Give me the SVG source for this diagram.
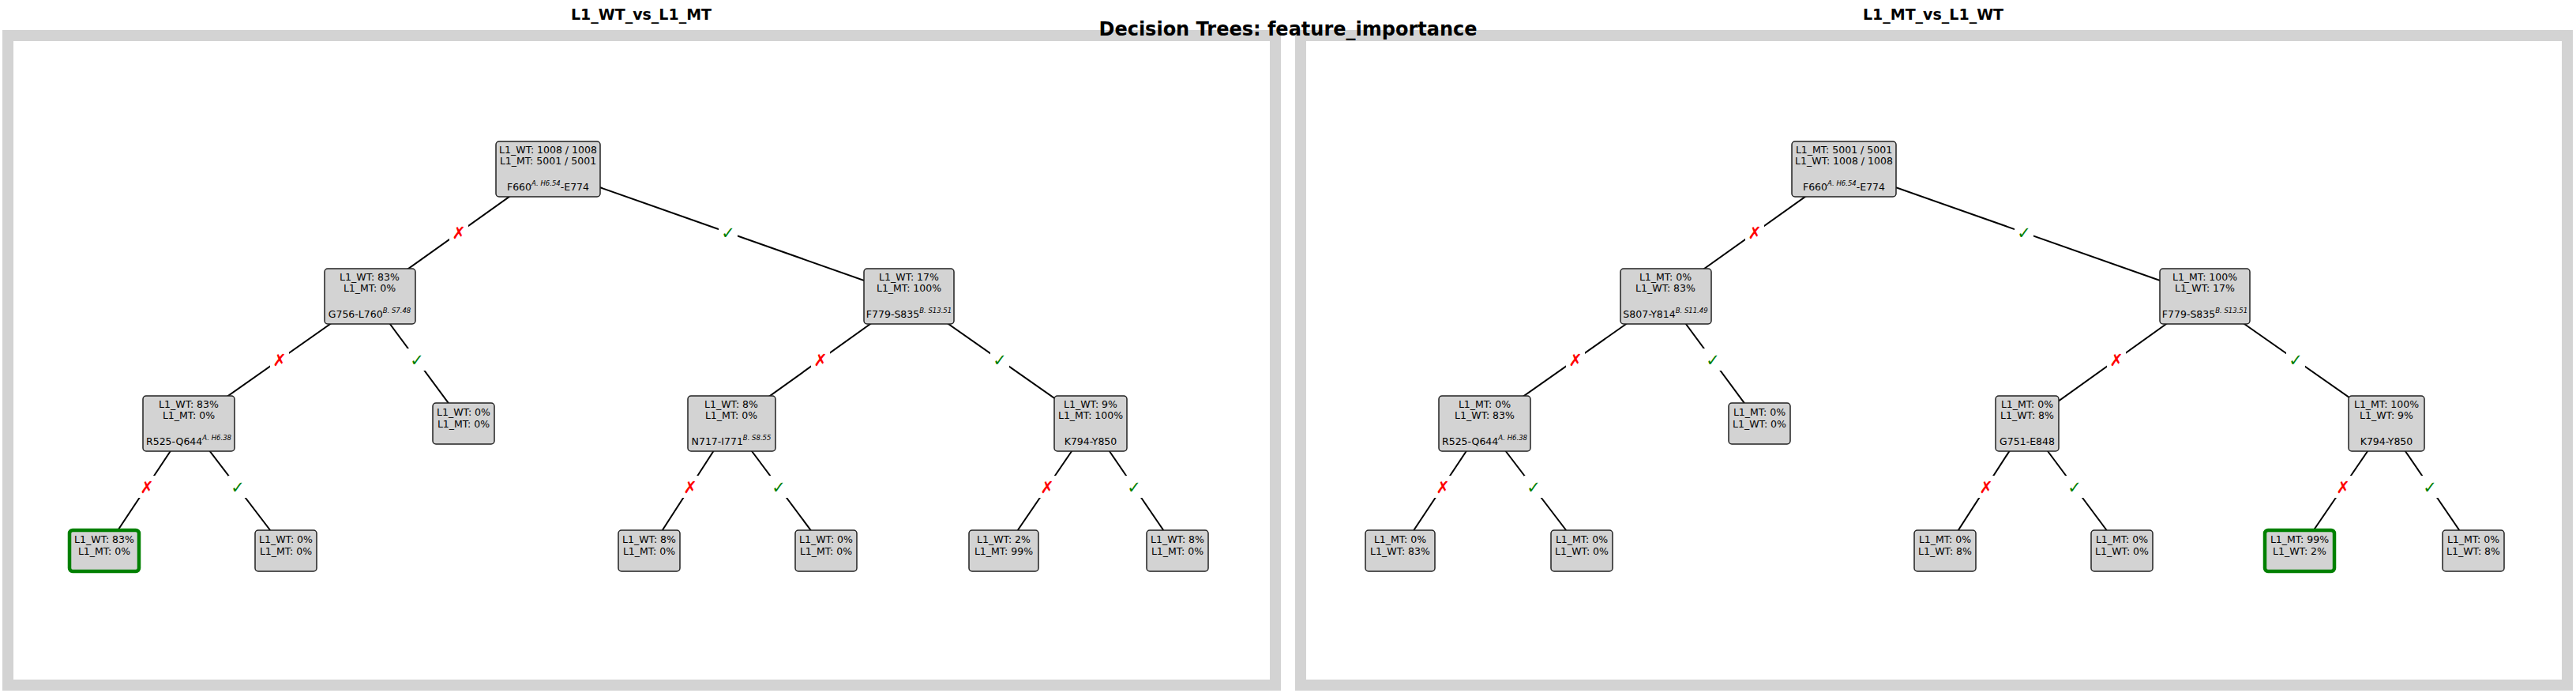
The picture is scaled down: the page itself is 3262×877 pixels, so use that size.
<svg xmlns="http://www.w3.org/2000/svg" width="3262" height="877" viewBox="0 0 3262 877">
<style>
.t{font-family:"DejaVu Sans",sans-serif;font-size:12.5px;fill:#000;text-anchor:middle}
.sup{font-size:8.5px;font-style:italic}
.h{font-family:"DejaVu Sans",sans-serif;font-weight:bold;text-anchor:middle;fill:#000}
.b{fill:#d3d3d3;stroke:#222;stroke-width:1.5}
.g{fill:#d3d3d3;stroke:#008000;stroke-width:4.5}
.e{stroke:#000;stroke-width:2;fill:none}
.x{font-family:"DejaVu Sans",sans-serif;font-size:21px;fill:#ff0000;text-anchor:middle}
.c{font-family:"DejaVu Sans",sans-serif;font-size:21px;fill:#008000;text-anchor:middle}
.frame{fill:none;stroke:#d3d3d3;stroke-width:14}
</style>
<rect width="3262" height="877" fill="#fff"/>
<rect class="frame" x="10" y="45" width="1605" height="822"/>
<rect class="frame" x="1647" y="45" width="1604" height="822"/>
<text class="h" x="812" y="25" font-size="19">L1_WT_vs_L1_MT</text>
<text class="h" x="2448" y="25" font-size="19">L1_MT_vs_L1_WT</text>
<text class="h" x="1631" y="45" font-size="24">Decision Trees: feature_importance</text>

<g id="connectors">
<g id="edges-left">
<line class="e" x1="694" y1="214" x2="468" y2="375"/>
<line class="e" x1="694" y1="214" x2="1151" y2="375"/>
<line class="e" x1="468" y1="375" x2="239" y2="536"/>
<line class="e" x1="468" y1="375" x2="587" y2="536"/>
<line class="e" x1="1151" y1="375" x2="926" y2="536"/>
<line class="e" x1="1151" y1="375" x2="1381" y2="536"/>
<line class="e" x1="239" y1="536" x2="132" y2="697"/>
<line class="e" x1="239" y1="536" x2="362" y2="697"/>
<line class="e" x1="926" y1="536" x2="822" y2="697"/>
<line class="e" x1="926" y1="536" x2="1046" y2="697"/>
<line class="e" x1="1381" y1="536" x2="1271" y2="697"/>
<line class="e" x1="1381" y1="536" x2="1491" y2="697"/>
</g>
<g id="edges-right" transform="translate(1641 0)">
<line class="e" x1="694" y1="214" x2="468" y2="375"/>
<line class="e" x1="694" y1="214" x2="1151" y2="375"/>
<line class="e" x1="468" y1="375" x2="239" y2="536"/>
<line class="e" x1="468" y1="375" x2="587" y2="536"/>
<line class="e" x1="1151" y1="375" x2="926" y2="536"/>
<line class="e" x1="1151" y1="375" x2="1381" y2="536"/>
<line class="e" x1="239" y1="536" x2="132" y2="697"/>
<line class="e" x1="239" y1="536" x2="362" y2="697"/>
<line class="e" x1="926" y1="536" x2="822" y2="697"/>
<line class="e" x1="926" y1="536" x2="1046" y2="697"/>
<line class="e" x1="1381" y1="536" x2="1271" y2="697"/>
<line class="e" x1="1381" y1="536" x2="1491" y2="697"/>
</g>
<g id="edge-labels-left" fill="#fff">
<rect x="569" y="280" width="24" height="28"/><text class="x" x="581" y="302">✗</text>
<rect x="910" y="280" width="24" height="28"/><text class="c" x="922" y="302">✓</text>
<rect x="342" y="441" width="24" height="28"/><text class="x" x="354" y="463">✗</text>
<rect x="516" y="441" width="24" height="28"/><text class="c" x="528" y="463">✓</text>
<rect x="1027" y="441" width="24" height="28"/><text class="x" x="1039" y="463">✗</text>
<rect x="1254" y="441" width="24" height="28"/><text class="c" x="1266" y="463">✓</text>
<rect x="174" y="602" width="24" height="28"/><text class="x" x="186" y="624">✗</text>
<rect x="289" y="602" width="24" height="28"/><text class="c" x="301" y="624">✓</text>
<rect x="862" y="602" width="24" height="28"/><text class="x" x="874" y="624">✗</text>
<rect x="974" y="602" width="24" height="28"/><text class="c" x="986" y="624">✓</text>
<rect x="1314" y="602" width="24" height="28"/><text class="x" x="1326" y="624">✗</text>
<rect x="1424" y="602" width="24" height="28"/><text class="c" x="1436" y="624">✓</text>
</g>
<g id="edge-labels-right" fill="#fff" transform="translate(1641 0)">
<rect x="569" y="280" width="24" height="28"/><text class="x" x="581" y="302">✗</text>
<rect x="910" y="280" width="24" height="28"/><text class="c" x="922" y="302">✓</text>
<rect x="342" y="441" width="24" height="28"/><text class="x" x="354" y="463">✗</text>
<rect x="516" y="441" width="24" height="28"/><text class="c" x="528" y="463">✓</text>
<rect x="1027" y="441" width="24" height="28"/><text class="x" x="1039" y="463">✗</text>
<rect x="1254" y="441" width="24" height="28"/><text class="c" x="1266" y="463">✓</text>
<rect x="174" y="602" width="24" height="28"/><text class="x" x="186" y="624">✗</text>
<rect x="289" y="602" width="24" height="28"/><text class="c" x="301" y="624">✓</text>
<rect x="862" y="602" width="24" height="28"/><text class="x" x="874" y="624">✗</text>
<rect x="974" y="602" width="24" height="28"/><text class="c" x="986" y="624">✓</text>
<rect x="1314" y="602" width="24" height="28"/><text class="x" x="1326" y="624">✗</text>
<rect x="1424" y="602" width="24" height="28"/><text class="c" x="1436" y="624">✓</text>
</g>
</g>

<!-- Left tree -->
<g id="L-root"><rect class="b" x="628" y="179" width="132" height="70" rx="4"/>
<text class="t" x="694" y="194">L1_WT: 1008 / 1008</text><text class="t" x="694" y="208">L1_MT: 5001 / 5001</text>
<text class="t" x="694" y="241">F660<tspan class="sup" dy="-6">A. H6.54</tspan><tspan dy="6">-E774</tspan></text></g>
<g id="L-G756"><rect class="b" x="411" y="340" width="115" height="70" rx="4"/>
<text class="t" x="468" y="355">L1_WT: 83%</text><text class="t" x="468" y="369">L1_MT: 0%</text>
<text class="t" x="468" y="402">G756-L760<tspan class="sup" dy="-6">B. S7.48</tspan></text></g>
<g id="L-F779"><rect class="b" x="1094" y="340" width="114" height="70" rx="4"/>
<text class="t" x="1151" y="355">L1_WT: 17%</text><text class="t" x="1151" y="369">L1_MT: 100%</text>
<text class="t" x="1151" y="402">F779-S835<tspan class="sup" dy="-6">B. S13.51</tspan></text></g>
<g id="L-R525"><rect class="b" x="181" y="501" width="116" height="70" rx="4"/>
<text class="t" x="239" y="516">L1_WT: 83%</text><text class="t" x="239" y="530">L1_MT: 0%</text>
<text class="t" x="239" y="563">R525-Q644<tspan class="sup" dy="-6">A. H6.38</tspan></text></g>
<g id="L-leaf0"><rect class="b" x="548" y="510" width="78" height="52" rx="4"/>
<text class="t" x="587" y="526">L1_WT: 0%</text><text class="t" x="587" y="541">L1_MT: 0%</text></g>
<g id="L-N717"><rect class="b" x="871" y="501" width="111" height="70" rx="4"/>
<text class="t" x="926" y="516">L1_WT: 8%</text><text class="t" x="926" y="530">L1_MT: 0%</text>
<text class="t" x="926" y="563">N717-I771<tspan class="sup" dy="-6">B. S8.55</tspan></text></g>
<g id="L-K794"><rect class="b" x="1335" y="501" width="92" height="70" rx="4"/>
<text class="t" x="1381" y="516">L1_WT: 9%</text><text class="t" x="1381" y="530">L1_MT: 100%</text>
<text class="t" x="1381" y="563">K794-Y850</text></g>
<g id="L-leaf1"><rect class="g" x="88" y="671" width="88" height="52" rx="4"/>
<text class="t" x="132" y="687">L1_WT: 83%</text><text class="t" x="132" y="702">L1_MT: 0%</text></g>
<g id="L-leaf2"><rect class="b" x="323" y="671" width="78" height="52" rx="4"/>
<text class="t" x="362" y="687">L1_WT: 0%</text><text class="t" x="362" y="702">L1_MT: 0%</text></g>
<g id="L-leaf3"><rect class="b" x="783" y="671" width="78" height="52" rx="4"/>
<text class="t" x="822" y="687">L1_WT: 8%</text><text class="t" x="822" y="702">L1_MT: 0%</text></g>
<g id="L-leaf4"><rect class="b" x="1007" y="671" width="78" height="52" rx="4"/>
<text class="t" x="1046" y="687">L1_WT: 0%</text><text class="t" x="1046" y="702">L1_MT: 0%</text></g>
<g id="L-leaf5"><rect class="b" x="1227" y="671" width="88" height="52" rx="4"/>
<text class="t" x="1271" y="687">L1_WT: 2%</text><text class="t" x="1271" y="702">L1_MT: 99%</text></g>
<g id="L-leaf6"><rect class="b" x="1452" y="671" width="78" height="52" rx="4"/>
<text class="t" x="1491" y="687">L1_WT: 8%</text><text class="t" x="1491" y="702">L1_MT: 0%</text></g>

<!-- Right tree -->
<g transform="translate(1641 0)">
<g id="R-root"><rect class="b" x="628" y="179" width="132" height="70" rx="4"/>
<text class="t" x="694" y="194">L1_MT: 5001 / 5001</text><text class="t" x="694" y="208">L1_WT: 1008 / 1008</text>
<text class="t" x="694" y="241">F660<tspan class="sup" dy="-6">A. H6.54</tspan><tspan dy="6">-E774</tspan></text></g>
<g id="R-S807"><rect class="b" x="411" y="340" width="115" height="70" rx="4"/>
<text class="t" x="468" y="355">L1_MT: 0%</text><text class="t" x="468" y="369">L1_WT: 83%</text>
<text class="t" x="468" y="402">S807-Y814<tspan class="sup" dy="-6">B. S11.49</tspan></text></g>
<g id="R-F779"><rect class="b" x="1094" y="340" width="114" height="70" rx="4"/>
<text class="t" x="1151" y="355">L1_MT: 100%</text><text class="t" x="1151" y="369">L1_WT: 17%</text>
<text class="t" x="1151" y="402">F779-S835<tspan class="sup" dy="-6">B. S13.51</tspan></text></g>
<g id="R-R525"><rect class="b" x="181" y="501" width="116" height="70" rx="4"/>
<text class="t" x="239" y="516">L1_MT: 0%</text><text class="t" x="239" y="530">L1_WT: 83%</text>
<text class="t" x="239" y="563">R525-Q644<tspan class="sup" dy="-6">A. H6.38</tspan></text></g>
<g id="R-leaf0"><rect class="b" x="548" y="510" width="78" height="52" rx="4"/>
<text class="t" x="587" y="526">L1_MT: 0%</text><text class="t" x="587" y="541">L1_WT: 0%</text></g>
<g id="R-G751"><rect class="b" x="886" y="501" width="80" height="70" rx="4"/>
<text class="t" x="926" y="516">L1_MT: 0%</text><text class="t" x="926" y="530">L1_WT: 8%</text>
<text class="t" x="926" y="563">G751-E848</text></g>
<g id="R-K794"><rect class="b" x="1333" y="501" width="96" height="70" rx="4"/>
<text class="t" x="1381" y="516">L1_MT: 100%</text><text class="t" x="1381" y="530">L1_WT: 9%</text>
<text class="t" x="1381" y="563">K794-Y850</text></g>
<g id="R-leaf1"><rect class="b" x="88" y="671" width="88" height="52" rx="4"/>
<text class="t" x="132" y="687">L1_MT: 0%</text><text class="t" x="132" y="702">L1_WT: 83%</text></g>
<g id="R-leaf2"><rect class="b" x="323" y="671" width="78" height="52" rx="4"/>
<text class="t" x="362" y="687">L1_MT: 0%</text><text class="t" x="362" y="702">L1_WT: 0%</text></g>
<g id="R-leaf3"><rect class="b" x="783" y="671" width="78" height="52" rx="4"/>
<text class="t" x="822" y="687">L1_MT: 0%</text><text class="t" x="822" y="702">L1_WT: 8%</text></g>
<g id="R-leaf4"><rect class="b" x="1007" y="671" width="78" height="52" rx="4"/>
<text class="t" x="1046" y="687">L1_MT: 0%</text><text class="t" x="1046" y="702">L1_WT: 0%</text></g>
<g id="R-leaf5"><rect class="g" x="1227" y="671" width="88" height="52" rx="4"/>
<text class="t" x="1271" y="687">L1_MT: 99%</text><text class="t" x="1271" y="702">L1_WT: 2%</text></g>
<g id="R-leaf6"><rect class="b" x="1452" y="671" width="78" height="52" rx="4"/>
<text class="t" x="1491" y="687">L1_MT: 0%</text><text class="t" x="1491" y="702">L1_WT: 8%</text></g>
</g>
</svg>
